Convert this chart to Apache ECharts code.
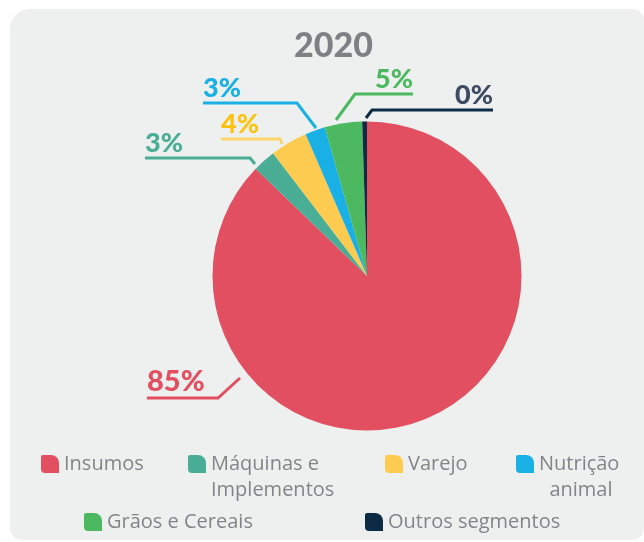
<!DOCTYPE html>
<html>
<head>
<meta charset="utf-8">
<script src="https://cdn.jsdelivr.net/npm/echarts@6/dist/echarts.min.js"></script>
<style>
html, body { margin: 0; padding: 0; background: #fff; }
#chart { width: 644px; height: 542px; }
</style>
</head>
<body>
<div id="chart"></div>
<script>
var segments = ['Insumos', 'Máquinas e Implementos', 'Varejo', 'Nutrição animal', 'Grãos e Cereais', 'Outros segmentos'];
var shares = [87.2, 2.4, 3.9, 2.1, 3.9, 0.5];
var shareLabels = ['85%', '3%', '4%', '3%', '5%', '0%'];
var legendText = ['Insumos', '\nMáquinas e\nImplementos', 'Varejo', '\nNutrição\n  animal', 'Grãos e Cereais', 'Outros segmentos'];

var sliceColors = ['#e14f61', '#4aae96', '#fdcb50', '#19b0e5', '#4cb85f', '#0c2c46'];
var labelColors = ['#e14f61', '#4aae96', '#fdc212', '#19b0e5', '#4cb85f', '#3d4c64'];
var lineColors = ['#e14f61', '#4aae96', '#fdd36c', '#19b0e5', '#4cb85f', '#0c2c46'];

// label lines as drawn in the original: start, bend, end
var labelLines = [
    [[240, 378], [218, 398], [147, 398]],
    [[255, 164], [250, 158], [145, 158]],
    [[282, 144], [280, 139], [221, 139]],
    [[316, 128], [297, 103], [203, 103]],
    [[336, 120], [355, 94], [413, 94]],
    [[366, 118], [372, 110], [493, 110]]
];

// legend item spots (left, top)
var legendSpots = [[41, 451], [188, 425], [385, 451], [516, 425], [84, 509], [365, 509]];

var leaf = 'path://M2,0 L10,0 A8,8 0 0 1 18,8 L18,18 L4,18 A4,4 0 0 1 0,14 L0,2 A2,2 0 0 1 2,0 Z';

var myChart = echarts.init(document.getElementById('chart'));

var pieData = segments.map(function (name, i) {
    return {
        name: name,
        value: shares[i],
        itemStyle: { color: sliceColors[i] },
        label: {
            color: labelColors[i],
            fontSize: i === 0 ? 29 : 27,
            lineHeight: i === 0 ? 28 : 26
        },
        labelLine: { lineStyle: { color: lineColors[i] } }
    };
});

var legends = segments.map(function (name, i) {
    return {
        data: [name],
        left: legendSpots[i][0],
        top: legendSpots[i][1],
        padding: 0,
        icon: leaf,
        itemWidth: 18,
        itemHeight: 18,
        selectedMode: false,
        formatter: function () { return legendText[i]; },
        textStyle: {
            color: '#838488',
            fontFamily: 'Open Sans',
            fontWeight: 400,
            fontSize: 20,
            lineHeight: 26
        }
    };
});

var option = {
    backgroundColor: '#ffffff',
    graphic: [{
        type: 'rect',
        z: -10,
        silent: true,
        shape: { x: 10, y: 9, width: 634, height: 531, r: [20, 12, 12, 12] },
        style: { fill: '#eef0ef' }
    }],
    title: {
        text: '2020',
        left: 289,
        top: 24,
        textStyle: {
            color: '#7f8083',
            fontFamily: 'Lato',
            fontWeight: 900,
            fontSize: 34
        }
    },
    legend: legends,
    series: [{
        type: 'pie',
        center: [367, 276],
        radius: 154.5,
        startAngle: 90,
        clockwise: true,
        avoidLabelOverlap: false,
        animation: false,
        label: {
            show: true,
            position: 'outside',
            fontFamily: 'Lato',
            fontWeight: 900,
            formatter: function (p) { return shareLabels[p.dataIndex]; }
        },
        labelLine: {
            show: true,
            lineStyle: { width: 3 }
        },
        labelLayout: function (params) {
            var pts = labelLines[params.dataIndex];
            var end = pts[2];
            var onLeft = end[0] < pts[1][0];
            return {
                x: end[0],
                y: end[1] - 2,
                align: onLeft ? 'left' : 'right',
                verticalAlign: 'bottom',
                labelLinePoints: pts
            };
        },
        emphasis: { disabled: true },
        data: pieData
    }]
};

myChart.setOption(option);
</script>
</body>
</html>
